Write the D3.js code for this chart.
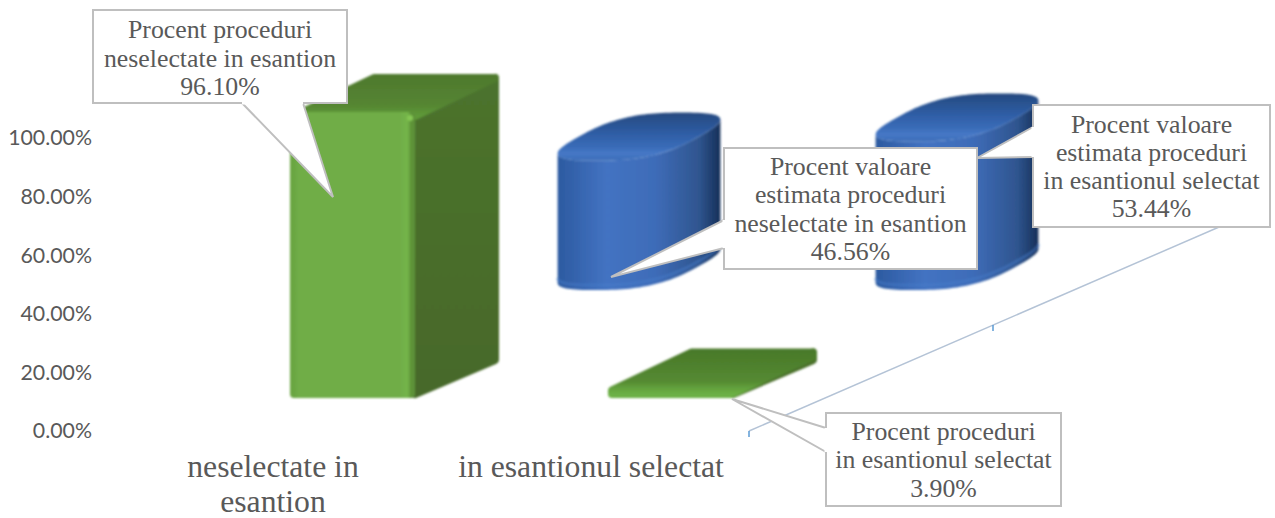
<!DOCTYPE html>
<html>
<head>
<meta charset="utf-8">
<script src="https://cdn.jsdelivr.net/npm/d3@7"></script>
<style>
  html, body { margin: 0; padding: 0; background: #fff; }
  svg { display: block; }
  .tick text { font-family: Lato, sans-serif; font-size: 21.3px; fill: #595959; }
  .cat, .note { font-family: "Liberation Serif", serif; fill: #595959; text-anchor: middle; }
  .cat { font-size: 31.7px; }
  .note { font-size: 25.8px; }
</style>
</head>
<body>
<svg width="1275" height="518"></svg>
<script>
// The data
var categories = ["neselectate in esantion", "in esantionul selectat"];
var catLines = [["neselectate in", "esantion"], ["in esantionul selectat"]];
var procentProceduri = [96.10, 3.90];
var procentValoare = [46.56, 53.44];
var yTicks = [0, 20, 40, 60, 80, 100];
var depthTicks = [0, 1, 2];

var proceduriNotes = [
    ["Procent proceduri", "neselectate in esantion", "96.10%"],
    ["Procent proceduri", "in esantionul selectat", "3.90%"]
];
var valoareNotes = [
    ["Procent valoare", "estimata proceduri", "neselectate in esantion", "46.56%"],
    ["Procent valoare", "estimata proceduri", "in esantionul selectat", "53.44%"]
];

var svg = d3.select("svg");

// Scales
var y = d3.scaleLinear().domain([0, 100]).range([431, 138]);
var x = d3.scaleBand().domain(categories).range([114, 750]);
var frontH = d3.scaleLinear().domain([0, 100]).range([0, 297.6]);
var backH = d3.scaleLinear().domain([0, 100]).range([0, 278]);
var depth = d3.scaleLinear().domain([0, 1]).range([0, 244]);

var defs = svg.append("defs");

function gradient(id, x2, y2, stops) {
    var g = defs.append("linearGradient").attr("id", id)
        .attr("x1", 0).attr("y1", 0).attr("x2", x2).attr("y2", y2);
    stops.forEach(function (s) {
        g.append("stop").attr("offset", s[0]).attr("stop-color", s[1]);
    });
}
gradient("greenFront", 1, 0, [[0, "#6aa642"], [0.04, "#70ad47"], [0.9, "#70ad47"], [0.97, "#74b54a"], [1, "#5d9239"]]);
gradient("greenTop", 0, 1, [[0, "#4f7a2e"], [0.7, "#558532"], [1, "#5f9a38"]]);
gradient("greenThin", 0, 1, [[0, "#4a7a2a"], [0.7, "#558a32"], [0.85, "#62a03c"], [1, "#6cb045"]]);
gradient("greenSide", 0, 1, [[0, "#4c732d"], [1, "#47692a"]]);
gradient("blueSide", 1, 0, [[0, "#2c5aa0"], [0.3, "#4373c2"], [0.6, "#3e6cb8"], [0.87, "#2f558f"], [1, "#162f58"]]);
gradient("blueTop", 0, 1, [[0, "#25497f"], [0.45, "#2f5ea6"], [0.72, "#3a6cb8"], [0.85, "#4678c6"], [1, "#3a6cb8"]]);

var blur = defs.append("filter").attr("id", "soft");
blur.append("feGaussianBlur").attr("stdDeviation", 0.8);

// Depth axis
var depthOrigin = [749, 431], depthSlope = -0.434;
var depthG = svg.append("g");
depthG.append("line")
    .attr("x1", depthOrigin[0]).attr("y1", depthOrigin[1])
    .attr("x2", depthOrigin[0] + depth(2)).attr("y2", depthOrigin[1] + depth(2) * depthSlope)
    .attr("stroke", "#b4c3d6").attr("stroke-width", 1.5);
depthG.selectAll("line.t").data(depthTicks).enter().append("line").attr("class", "t")
    .attr("x1", function (d) { return depthOrigin[0] + depth(d); })
    .attr("x2", function (d) { return depthOrigin[0] + depth(d); })
    .attr("y1", function (d) { return depthOrigin[1] + depth(d) * depthSlope; })
    .attr("y2", function (d) { return depthOrigin[1] + depth(d) * depthSlope + 6; })
    .attr("stroke", "#5b9bd5").attr("stroke-width", 1.5);

// Y axis
var yAxis = d3.axisLeft(y).tickValues(yTicks).tickSize(0).tickPadding(0)
    .tickFormat(function (d) { return d.toFixed(2) + "%"; });
svg.append("g").attr("transform", "translate(92,0)").call(yAxis)
    .call(function (g) { g.select(".domain").remove(); });

// Category labels
catLines.forEach(function (lines, i) {
    lines.forEach(function (t, j) {
        svg.append("text").attr("class", "cat")
            .attr("x", x(categories[i]) + x.bandwidth() / 2)
            .attr("y", 477 + j * 35)
            .text(t);
    });
});

// Blue cylinders (back row)
var cylA = 60, cylBx = 43, cylBy = -24, cylFloor = 266, cylPow = 0.7;
var line = d3.line().curve(d3.curveLinearClosed);

function signPow(v) { return (v < 0 ? -1 : 1) * Math.pow(Math.abs(v), cylPow); }

function lidPt(cx, cy, t) {
    var c = signPow(Math.cos(t)), s = signPow(Math.sin(t));
    return [cx + cylA * c + cylBx * s, cy + cylBy * s];
}

var cylinders = svg.append("g").attr("filter", "url(#soft)");
// angle of the right-most point of the outline
var angles = d3.range(0, 360).map(function (k) { return k * Math.PI / 180; });
var t0 = d3.greatest(angles, function (t) { return lidPt(0, 0, t)[0]; });

procentValoare.forEach(function (v, i) {
    var cx = x(categories[i]) + x.bandwidth() / 2 + 366;
    var top = cylFloor - backH(v);

    // wall: front half of the floor outline, closed through the top outline
    var wall = d3.range(0, 61).map(function (k) { return lidPt(cx, cylFloor, t0 - Math.PI * k / 60); });
    wall = wall.concat(d3.range(60, -1, -1).map(function (k) { return lidPt(cx, top, t0 - Math.PI * k / 60); }));
    cylinders.append("path").attr("d", line(wall)).attr("fill", "url(#blueSide)");

    var lid = d3.range(0, 120).map(function (k) { return lidPt(cx, top, Math.PI * 2 * k / 120); });
    cylinders.append("path").attr("d", line(lid)).attr("fill", "url(#blueTop)");

    // pale rim just inside the front of the floor
    var rim = d3.range(0, 61).map(function (k) { return lidPt(cx, cylFloor - 5, t0 - Math.PI * k / 60); });
    cylinders.append("path").attr("d", d3.line()(rim)).attr("fill", "none")
        .attr("stroke", "#4a7ecb").attr("stroke-opacity", 0.45).attr("stroke-width", 3);
});

// Green boxes (front row)
var boxW = 125, boxDx = 84, boxDy = -38, boxFloor = 398;
var boxes = svg.append("g").attr("filter", "url(#soft)");
procentProceduri.forEach(function (v, i) {
    var left = x(categories[i]) + x.bandwidth() / 2 + 17;
    var right = left + boxW;
    var top = boxFloor - frontH(v);
    var thin = frontH(v) < 30;

    function poly(pts, fill, w) {
        boxes.append("path").attr("d", line(pts))
            .attr("fill", fill).attr("stroke", fill)
            .attr("stroke-width", w).attr("stroke-linejoin", "round");
    }
    // side, top, front
    poly([[right, top + 4], [right + boxDx - 4, top + boxDy + 4], [right + boxDx - 4, boxFloor + boxDy], [right, boxFloor - 4]], "url(#greenSide)", 8);
    if (thin) {
        // the flat box reads as one rounded plate with a pale front lip
        poly([[left + 4, boxFloor - 4], [left + 4, top + 4], [left + boxDx, top + boxDy + 4], [right + boxDx - 4, top + boxDy + 4], [right + boxDx - 4, top + boxDy + 8], [right - 2, boxFloor - 4]], "url(#greenThin)", 8);
    } else {
        poly([[left + 4, top + 4], [left + boxDx, top + boxDy + 4], [right + boxDx - 4, top + boxDy + 4], [right, top + 4]], "url(#greenTop)", 8);
        poly([[left + 4, top + 4], [right - 4, top + 4], [right - 4, boxFloor - 4], [left + 4, boxFloor - 4]], "url(#greenFront)", 8);
        // bright bevel spot on the corner
        boxes.append("circle").attr("cx", right - 5).attr("cy", top + 6).attr("r", 3).attr("fill", "#84c653");
    }
});

// Callouts
function callout(box, pointer, lines, baselines) {
    var pts = pointer.slice();
    svg.append("path")
        .attr("d", "M" + box[0] + "," + box[1] + "H" + box[2] + "V" + box[3] + "H" + box[0] + "Z")
        .attr("fill", "#fff").attr("stroke", "#bfbfbf").attr("stroke-width", 2);
    svg.append("path").attr("d", d3.line()(pts))
        .attr("fill", "#fff").attr("stroke", "#bfbfbf").attr("stroke-width", 2);
    // hide the box edge where the pointer joins it
    svg.append("line")
        .attr("x1", pts[0][0]).attr("y1", pts[0][1])
        .attr("x2", pts[2][0]).attr("y2", pts[2][1])
        .attr("stroke", "#fff").attr("stroke-width", 3);
    lines.forEach(function (t, j) {
        svg.append("text").attr("class", "note")
            .attr("x", (box[0] + box[2]) / 2)
            .attr("y", baselines[j])
            .text(t);
    });
}

callout([93, 10, 347, 103], [[242, 103], [333, 197], [303, 103]], proceduriNotes[0], [38, 67, 95]);
callout([724, 148, 977, 269], [[724, 220], [611, 277], [724, 248]], valoareNotes[0], [175, 203, 232, 260]);
callout([1033, 105, 1270, 227], [[1033, 127], [977, 158], [1033, 157]], valoareNotes[1], [133, 161, 189, 217]);
callout([826, 413, 1061, 506], [[826, 428], [732, 399], [826, 452]], proceduriNotes[1], [440, 468, 497]);
</script>
</body>
</html>
